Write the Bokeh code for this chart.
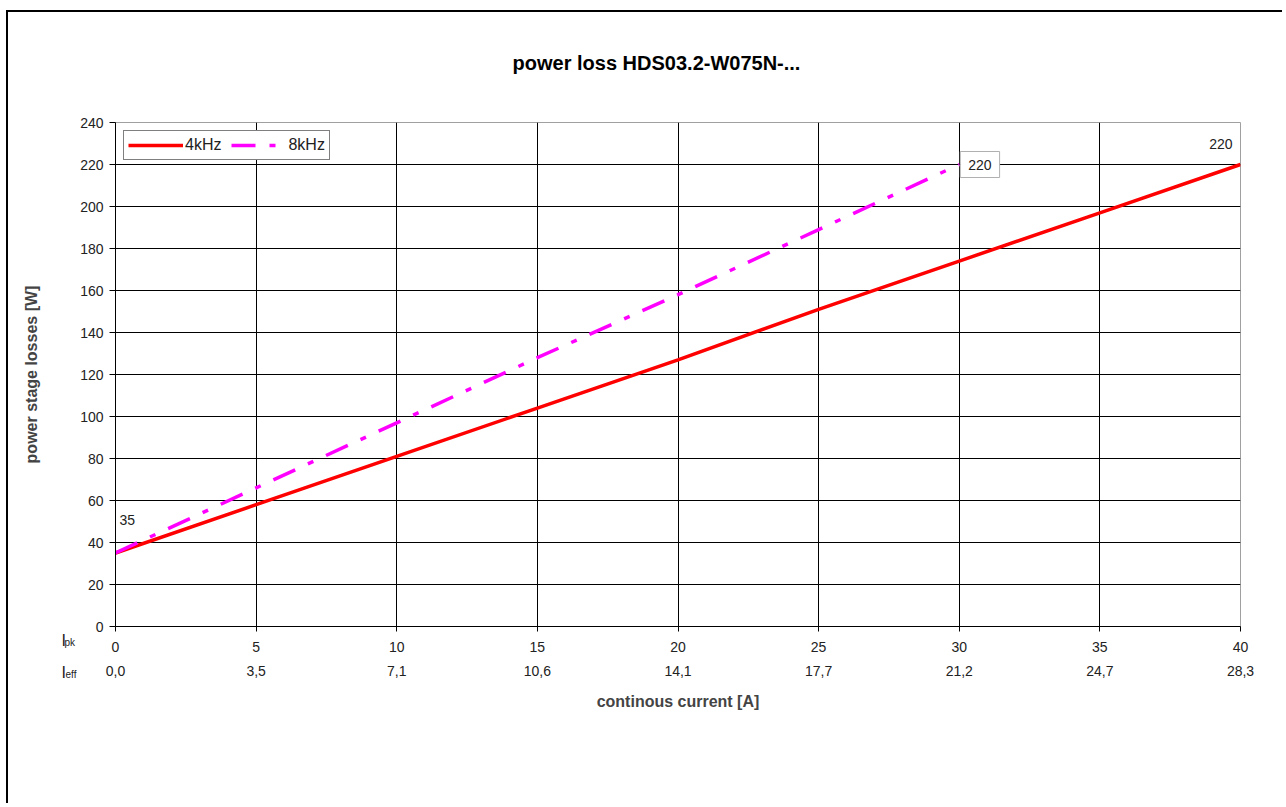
from bokeh.plotting import figure
from bokeh.models import LinearAxis, FixedTicker, Label, Range1d, Grid
from bokeh.embed import file_html
from bokeh.resources import INLINE

# data
x_4k = [0, 5, 10, 15, 20, 25, 30, 35, 40]
y_4k = [35, 58, 81, 104, 127, 151, 174, 197, 220]
x_8k = [0, 5, 10, 15, 20, 25, 30]
y_8k = [35, 66, 97, 128, 158, 189, 220]
x_ticks = [0, 5, 10, 15, 20, 25, 30, 35, 40]
ipk_labels = ["0", "5", "10", "15", "20", "25", "30", "35", "40"]
ieff_labels = ["0,0", "3,5", "7,1", "10,6", "14,1", "17,7", "21,2", "24,7", "28,3"]
y_ticks = list(range(0, 241, 20))
title_text = "power loss HDS03.2-W075N-..."

FONT = "Liberation Sans"
TXT = "#222222"

p = figure(width=1276, height=793, output_backend="svg", toolbar_location=None,
           x_range=Range1d(0, 40), y_range=Range1d(0, 240),
           x_axis_type=None, y_axis_type=None,
           min_border_left=107, min_border_right=44, min_border_top=110, min_border_bottom=179)
p.styles = {"border-left": "2px solid black", "border-top": "2px solid black",
            "margin-left": "6px", "margin-top": "10px"}
p.background_fill_color = "white"
p.border_fill_color = "white"
p.outline_line_color = "#a0a0a0"
p.outline_line_width = 1

# y axis
yax = LinearAxis(ticker=FixedTicker(ticks=y_ticks), axis_label="power stage losses [W]")
yax.axis_line_color = "black"
yax.major_tick_out = 6
yax.major_tick_in = 0
yax.minor_tick_line_color = None
yax.major_label_text_font = FONT
yax.major_label_text_font_size = "14px"
yax.major_label_text_color = TXT
yax.major_label_standoff = 6
yax.axis_label_text_font = FONT
yax.axis_label_text_font_style = "bold"
yax.axis_label_text_font_size = "16px"
yax.axis_label_standoff = 37
p.add_layout(yax, "left")

# x axis (Ipk)
xax = LinearAxis(ticker=FixedTicker(ticks=x_ticks))
xax.major_label_overrides = {t: l for t, l in zip(x_ticks, ipk_labels)}
xax.axis_line_color = "black"
xax.major_tick_out = 5
xax.major_tick_in = 0
xax.minor_tick_line_color = None
xax.major_label_text_font = FONT
xax.major_label_text_font_size = "14px"
xax.major_label_text_color = TXT
xax.major_label_standoff = 10
p.add_layout(xax, "below")

# second x axis (Ieff)
xax2 = LinearAxis(ticker=FixedTicker(ticks=x_ticks), axis_label="continous current [A]")
xax2.major_label_overrides = {t: l for t, l in zip(x_ticks, ieff_labels)}
xax2.axis_line_color = None
xax2.major_tick_line_color = None
xax2.minor_tick_line_color = None
xax2.major_tick_out = 0
xax2.major_tick_in = 0
xax2.major_label_text_font = FONT
xax2.major_label_text_font_size = "14px"
xax2.major_label_text_color = TXT
xax2.major_label_standoff = 11
xax2.axis_label_text_font = FONT
xax2.axis_label_text_font_style = "bold"
xax2.axis_label_text_font_size = "16px"
xax2.axis_label_standoff = 14
p.add_layout(xax2, "below")

# grids (exclude frame edges)
p.add_layout(Grid(dimension=0, ticker=FixedTicker(ticks=x_ticks[1:-1]),
                  grid_line_color="black", grid_line_width=1))
p.add_layout(Grid(dimension=1, ticker=FixedTicker(ticks=y_ticks[1:-1]),
                  grid_line_color="black", grid_line_width=1))

# lines
p.line(x_4k, y_4k, line_color="#ff0000", line_width=3.5, legend_label="4kHz")
p.line(x_8k, y_8k, line_color="#ff00ff", line_width=3.5, line_dash="24 14 6 14",
       legend_label="8kHz")

p.legend.location = "top_left"
p.legend.orientation = "horizontal"
p.legend.border_line_color = "black"
p.legend.border_line_width = 1
p.legend.background_fill_alpha = 1
p.legend.label_text_font = FONT
p.legend.label_text_font_size = "16px"
p.legend.label_text_color = TXT
p.legend.margin = 8
p.legend.padding = 4
p.legend.spacing = 10
p.legend.glyph_width = 55
p.legend.label_standoff = 2

# data labels
p.add_layout(Label(x=x_4k[0], y=y_4k[0], text="35", x_offset=4, y_offset=28,
                   text_font=FONT, text_font_size="14px", text_color=TXT))
p.add_layout(Label(x=x_8k[-1], y=y_8k[-1], text="220", x_offset=1, y_offset=0,
                   text_baseline="middle", text_font=FONT, text_font_size="14px",
                   text_color=TXT, border_line_color="#b0b0b0",
                   background_fill_color="white", padding=8))
p.add_layout(Label(x=x_4k[-1], y=y_4k[-1], text="220", x_offset=-8, y_offset=16,
                   text_align="right", text_font=FONT, text_font_size="14px",
                   text_color=TXT))

# title (side panel, canvas units)
p.add_layout(Label(x=646, y=48, x_units="canvas", y_units="canvas", text=title_text,
                   text_align="center", text_baseline="alphabetic", text_font=FONT,
                   text_font_size="20px", text_font_style="bold", text_color="black"),
             "above")

# Ipk / Ieff row labels (side panel, canvas units)
for tx, ty, txt, fs in [(51, 626, "I", "16px"), (54, 628, "pk", "10px"),
                        (51, 658, "I", "16px"), (55, 660, "eff", "10px")]:
    p.add_layout(Label(x=tx, y=ty, x_units="canvas", y_units="canvas", text=txt,
                       text_font=FONT, text_font_size=fs, text_baseline="alphabetic",
                       text_color=TXT), "below")

open("out.html", "w").write(file_html(p, INLINE))
